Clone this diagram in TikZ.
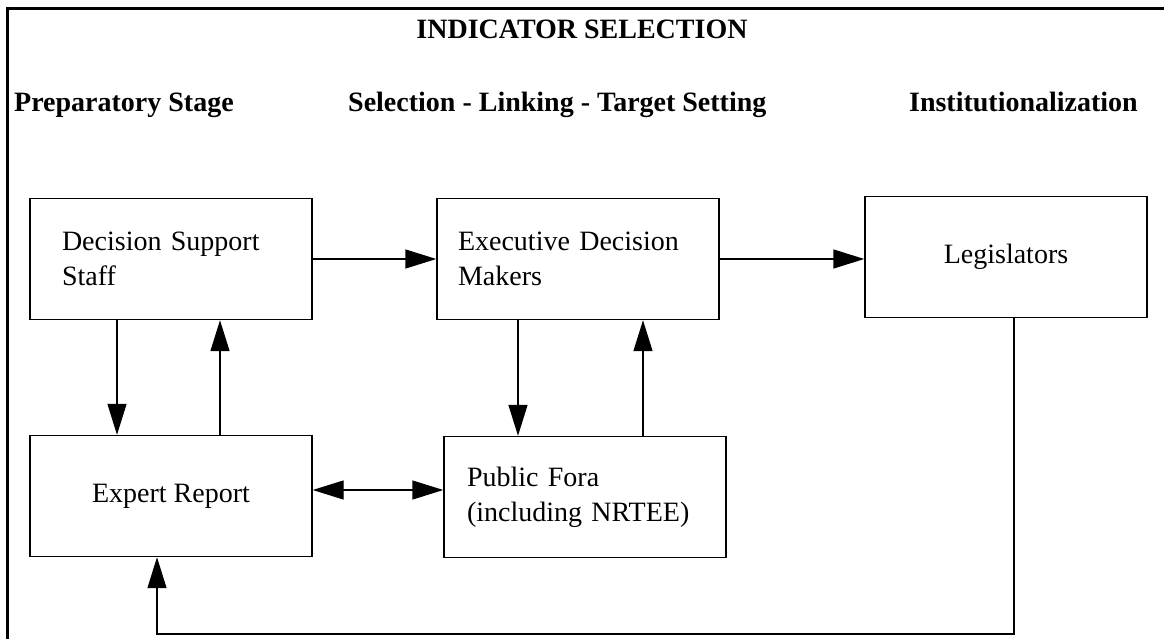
\documentclass[tikz,border=0pt]{standalone}
\usepackage{fontspec}
\setmainfont{Liberation Serif}
\usetikzlibrary{arrows.meta}

\tikzset{
	head/.style={font=\fontsize{28}{34}\selectfont\bfseries, inner sep=0pt},
	box/.style={draw, line width=1.4pt, minimum width=282pt, minimum height=121pt, inner sep=0pt, font=\fontsize{28}{35}\selectfont},
	arr/.style={-{Triangle[length=31pt,width=19pt]}, line width=1.4pt},
	dbl/.style={{Triangle[length=31pt,width=19pt]}-{Triangle[length=31pt,width=19pt]}, line width=1.4pt}
}

\begin{document}
\begin{tikzpicture}[x=1pt, y=-1pt]
		\useasboundingbox (0,0) rectangle (1164,639);
		\draw[line width=3pt] (7,639) -- (7,9) -- (1164,9);

		% headings
		\node[head, anchor=base] (title) at (582,39) {INDICATOR SELECTION};
		\node[head, anchor=base west] (prep) at (14,112) {Preparatory Stage};
		\node[head, anchor=base west] (sel) at (348,112) {Selection - Linking - Target Setting};
		\node[head, anchor=base east] (inst) at (1138,112) {Institutionalization};

		% boxes
		\node[box, align=left, text width=218pt] (dss) at (171,259) {Decision Support\\Staff};
		\node[box, align=left, text width=240pt] (edm) at (578,259) {Executive Decision\\Makers};
		\node[box] (leg) at (1006,257) {Legislators};
		\node[box] (exp) at (171,496) {Expert Report};
		\node[box, align=left, text width=236pt] (pub) at (585,497) {Public Fora\\(including NRTEE)};

		\coordinate (downL) at (117,0);
		\coordinate (upL) at (220,0);
		\coordinate (downR) at (518,0);
		\coordinate (upR) at (643,0);
		\coordinate (mid) at (0,490);
		\coordinate (drop) at (1014,0);
		\coordinate (back) at (157,634);

		\draw[arr] (dss.east) -- (edm.west);
		\draw[arr] (edm.east) -- (edm.east -| leg.west);
		\draw[arr] (dss.south -| downL) -- (exp.north -| downL);
		\draw[arr] (exp.north -| upL) -- (dss.south -| upL);
		\draw[arr] (edm.south -| downR) -- (pub.north -| downR);
		\draw[arr] (pub.north -| upR) -- (edm.south -| upR);
		\draw[dbl] (exp.east |- mid) -- (pub.west |- mid);
		\draw[arr] (leg.south -| drop) |- (back) -- (back |- exp.south);
	\end{tikzpicture}
\end{document}
